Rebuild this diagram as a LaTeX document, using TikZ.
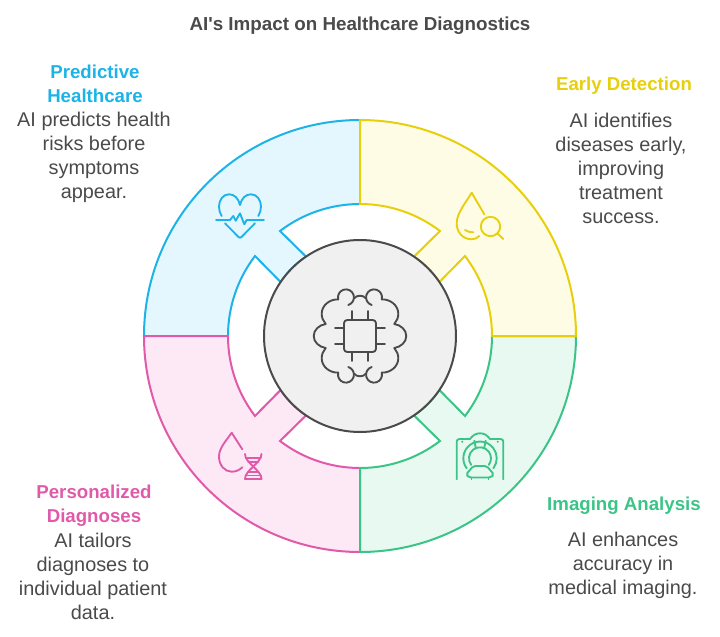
\documentclass[tikz,border=0pt]{standalone}
\usepackage{fontspec}
\setmainfont{Liberation Sans}
\usetikzlibrary{positioning}
\definecolor{impactInk}{RGB}{74,74,74}
\definecolor{hubFill}{RGB}{240,240,240}
\definecolor{earlyLine}{RGB}{231,207,12}
\definecolor{earlyFill}{RGB}{255,252,229}
\definecolor{imagingLine}{RGB}{58,196,134}
\definecolor{imagingFill}{RGB}{232,249,241}
\definecolor{personalLine}{RGB}{224,90,169}
\definecolor{personalFill}{RGB}{253,232,245}
\definecolor{predictLine}{RGB}{28,179,232}
\definecolor{predictFill}{RGB}{228,247,254}
\tikzset{
  sector/.style={line width=1.5pt, line join=miter},
  icon/.style={line width=1.4pt, line cap=round, line join=round},
  heading/.style={font=\fontsize{14}{18}\selectfont\bfseries, align=center, inner sep=0pt},
  bodytext/.style={font=\fontsize{14.9}{18}\selectfont, align=center, inner sep=0pt, text=impactInk},
  chart title/.style={font=\fontsize{14.1}{16}\selectfont\bfseries, inner sep=0pt, text=impactInk}
}
\begin{document}
\begin{tikzpicture}[x=0.75pt,y=0.75pt]
    \useasboundingbox (-360,-300) rectangle (360,336);
    % quadrants, last one on top
    \foreach \ang/\tone in {90/predict,-180/personal,-90/imaging,0/early}{
      \begin{scope}[rotate=\ang]
        \draw[sector, draw=\tone Line, fill=\tone Fill] (90:216) arc[start angle=90,end angle=0,radius=216]
          -- (0:132) arc[start angle=0,end angle=37.3,radius=132]
          -- (34.2:96) arc[start angle=34.2,end angle=55.8,radius=96]
          -- (52.7:132) arc[start angle=52.7,end angle=90,radius=132] -- cycle;
      \end{scope}
    }
    \node[circle, draw=impactInk, fill=hubFill, line width=1.5pt, minimum size=144pt, inner sep=0pt] (hub) at (0,0) {};
    % brain and chip
    \draw[icon, draw=impactInk, rounded corners=2.4pt] (-16,-16) rectangle (16,16);
    \foreach \p in {-8,8}{
      \draw[icon, draw=impactInk] (\p,16) -- (\p,25);
      \draw[icon, draw=impactInk] (\p,-16) -- (\p,-25);
      \draw[icon, draw=impactInk] (16,\p) -- (25,\p);
      \draw[icon, draw=impactInk] (-16,\p) -- (-25,\p);
    }
    \foreach \sx/\sy in {1/1,-1/1,1/-1,-1/-1}{
      \begin{scope}[xscale=\sx,yscale=\sy]
        \draw[icon, draw=impactInk] (0,40.3) .. controls (2.5,40.3) and (4.5,39.5) .. (6,37.5);
        \draw[icon, draw=impactInk] (11.7,31) arc[start angle=253,end angle=-15,radius=8]
          .. controls (30,37) and (38,31) .. (38.3,22.7)
          .. controls (38.5,18) and (36.5,15) .. (34.3,12)
          .. controls (41,11) and (46.3,6) .. (46.3,0);
      \end{scope}
    }
    % drop with lens
    \draw[icon, draw=earlyLine] (124.3,121.7) -- (111.7,143.3) .. controls (104,131) and (96.7,122) .. (96.7,112.7)
      .. controls (96.7,103.5) and (103,96.7) .. (111.7,96.7) .. controls (114.5,96.7) and (117,97.8) .. (119.3,100);
    \draw[icon, draw=earlyLine] (105,106) .. controls (107,104.5) and (110,103.7) .. (113.3,103.7);
    \draw[icon, draw=earlyLine] (130.5,109.5) circle (9.7);
    \draw[icon, draw=earlyLine] (137.5,102.5) -- (143.3,97);
    % scanner
    \draw[icon, draw=imagingLine] (96.7,-143.3) -- (96.7,-105.5) .. controls (96.7,-104) and (98,-103) .. (99.5,-103)
      -- (110,-103) .. controls (113,-99) and (116,-97.3) .. (120,-97.3) .. controls (124,-97.3) and (127,-99) .. (130,-103)
      -- (140.5,-103) .. controls (142,-103) and (143.3,-104) .. (143.3,-105.5) -- (143.3,-143.3);
    \draw[icon, draw=imagingLine] (106.7,-132.3) arc[start angle=217,end angle=-37,radius=16.7];
    \draw[icon, draw=imagingLine] (111.2,-128.9) arc[start angle=217,end angle=-37,radius=11];
    \draw[icon, draw=imagingLine] (114.3,-104.7) -- (115.7,-111.7);
    \draw[icon, draw=imagingLine] (125.7,-104.7) -- (124.3,-111.7);
    \fill[imagingLine] (102.3,-105.7) circle (1.1) (137.7,-105.7) circle (1.1);
    \draw[icon, draw=imagingLine, rounded corners=1.5pt] (113.3,-130) -- (126.7,-130) -- (134,-138.5) -- (131,-141.5) -- (109,-141.5) -- (106,-138.5) -- cycle;
    \draw[icon, draw=imagingLine] (111.5,-141.5) -- (111.5,-143.3);
    \draw[icon, draw=imagingLine] (128.5,-141.5) -- (128.5,-143.3);
    % heart with trace
    \draw[icon, draw=predictLine] (-138.3,120) .. controls (-140,122.5) and (-141,126) .. (-141,129.3)
      .. controls (-141,136) and (-137,141.7) .. (-131,141.7) .. controls (-126,141.7) and (-121.5,138) .. (-120,131)
      .. controls (-118.5,138) and (-114,141.7) .. (-109,141.7) .. controls (-103,141.7) and (-99,136) .. (-99,129.3)
      .. controls (-99,126) and (-100,123) .. (-101.7,120);
    \draw[icon, draw=predictLine] (-144,116) -- (-130,116) -- (-126.7,120) -- (-124.3,115.3) -- (-120,122.7) -- (-115.7,111.7) -- (-113.3,116) -- (-96,116);
    \draw[icon, draw=predictLine, rounded corners=1.5pt] (-135,112.7) -- (-120,97.5) -- (-105,112.7);
    % drop with helix
    \draw[icon, draw=personalLine] (-117.7,-113.3) -- (-128.3,-96.7) .. controls (-134,-105) and (-141,-112) .. (-141,-120.7)
      .. controls (-141,-129) and (-135.5,-135.7) .. (-128.3,-135.7) .. controls (-124,-135.7) and (-120.5,-134) .. (-117.7,-131.3);
    \draw[icon, draw=personalLine] (-115,-118) .. controls (-115,-127) and (-98.5,-134) .. (-98.5,-143);
    \draw[icon, draw=personalLine] (-98.5,-118) .. controls (-98.5,-127) and (-115,-134) .. (-115,-143);
    \foreach \barY/\barW in {-122/7.5,-126/5,-136/5,-139.5/7.5,-143/8.2}{
      \draw[icon, draw=personalLine] (-106.75-\barW,\barY) -- (-106.75+\barW,\barY);
    }
    % labels
    \node[chart title] (title) at (0,310.5) {AI\textquotesingle s Impact on Healthcare Diagnostics};
    \node[heading, text=earlyLine] (earlyhead) at (264,250) {Early Detection};
    \node[bodytext] (earlybody) at (261,168) {AI identifies\\diseases early,\\improving\\treatment\\success.};
    \node[heading, text=imagingLine] (imaginghead) at (264,-170) {Imaging Analysis};
    \node[bodytext] (imagingbody) at (263,-229) {AI enhances\\accuracy in\\medical imaging.};
    \node[heading, text=personalLine] (personalhead) at (-266,-170) {Personalized\\Diagnoses};
    \node[bodytext] (personalbody) at (-267,-240) {AI tailors\\diagnoses to\\individual patient\\data.};
    \node[heading, text=predictLine] (predicthead) at (-265,252) {Predictive\\Healthcare};
    \node[bodytext] (predictbody) at (-266,179) {AI predicts health\\risks before\\symptoms\\appear.};
  \end{tikzpicture}
\end{document}
